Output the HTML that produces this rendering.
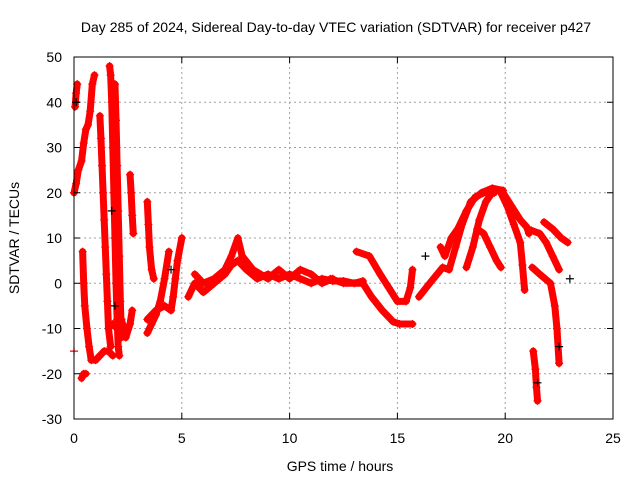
<!DOCTYPE html>
<html><head><meta charset="utf-8"><style>
body{margin:0;background:#fff}
svg{display:block;font-family:"Liberation Sans",sans-serif}
</style></head><body>
<svg id="chart" width="640" height="480" viewBox="0 0 640 480">
<rect width="640" height="480" fill="#fff"/>
<text x="336" y="32" font-size="14" text-anchor="middle">Day 285 of 2024, Sidereal Day-to-day VTEC variation (SDTVAR) for receiver p427</text>
<g id="grid"></g><g id="marks"></g><g id="axes"></g>
<text x="340" y="471" font-size="14" text-anchor="middle">GPS time / hours</text>
<text transform="translate(19,238) rotate(-90)" font-size="14" text-anchor="middle">SDTVAR / TECUs</text>
</svg>
<script>
const xTicks=[0,5,10,15,20,25];
const yTicks=[-30,-20,-10,0,10,20,30,40,50];
const trackA0=[[0.05,39],[0.1,42],[0.15,44]];
const trackA=[[0,20],[0.1,22],[0.2,25],[0.35,27],[0.45,31],[0.55,34],[0.65,35],[0.75,38],[0.85,44],[0.95,46]];
const trackB=[[0.4,7],[0.45,0],[0.5,-5],[0.6,-10],[0.7,-14],[0.8,-17],[1.0,-17],[1.2,-16],[1.4,-15],[1.6,-15],[1.8,-16]];
const trackB2=[[0.35,-21],[0.45,-20],[0.55,-20]];
const trackB3=[[0,-15]];
const trackC=[[1.65,48],[1.7,46],[1.75,40],[1.8,30],[1.85,20],[1.9,10],[1.95,0],[2.0,-8],[2.05,-14],[2.1,-16]];
const trackC2=[[1.2,37],[1.25,32],[1.3,26],[1.35,20],[1.4,14],[1.45,8],[1.5,2],[1.55,-4],[1.6,-10],[1.7,-14]];
const trackC3=[[1.9,44],[1.95,36],[2.0,26],[2.05,16],[2.1,6],[2.15,-4],[2.2,-12]];
const trackC4=[[1.8,-9],[2.0,-10],[2.2,-8],[2.4,-12],[2.6,-9],[2.7,-6]];
const trackC5=[[2.6,24],[2.65,20],[2.7,15],[2.75,11]];
const trackC6=[[3.4,18],[3.45,13],[3.5,8],[3.6,3],[3.7,1]];
const trackD1=[[3.4,-11],[3.6,-9],[3.8,-7],[4.0,-4],[4.2,1],[4.4,7]];
const trackD2=[[4.5,-6],[4.6,-3],[4.7,1],[4.8,5],[5.0,10]];
const trackD3=[[3.4,-8],[3.8,-6],[4.2,-5],[4.5,-6]];
const trackM1=[[5.3,-3],[5.6,0],[6.0,-2],[6.5,0],[7.0,2],[7.3,4],[7.6,5],[8.0,3],[8.5,1],[9.0,2],[9.5,1],[10.0,2],[10.5,1],[11.0,0],[11.5,1],[12.0,0.5],[12.5,0.5],[13.0,0],[13.4,0.5]];
const trackM2=[[5.6,2],[6.0,0],[6.5,1],[7.0,3],[7.3,6],[7.6,10],[7.8,6],[8.3,3],[9.0,1],[9.5,3],[10.0,1],[10.5,3],[11.0,2],[11.5,0],[12.0,1]];
const trackD=[[11.9,1],[12.5,0],[13.4,0],[13.8,-3],[14.3,-6],[14.8,-8.5],[15.1,-9],[15.7,-9]];
const trackE=[[13.1,7],[13.7,6],[14.2,2],[14.6,-1],[15.0,-4],[15.4,-4],[15.6,-1],[15.7,3]];
const trackF=[[16.0,-3],[16.5,0],[17.1,3.5],[17.4,3],[17.7,8],[18.0,13],[18.4,18],[18.9,20],[19.4,21],[19.9,20.5]];
const trackF2=[[17.0,8],[17.2,6],[17.5,10],[17.8,12],[18.2,16],[18.6,19],[19.0,20],[19.5,20]];
const trackF3=[[18.2,3.5],[18.5,8],[18.8,14],[19.1,18],[19.4,20]];
const trackF4=[[18.7,12],[19.0,11],[19.3,8],[19.6,5],[19.8,3.5]];
const trackF5=[[19.8,20],[20.1,17],[20.4,13],[20.7,9],[20.8,4],[20.9,-1.5]];
const trackF6=[[19.9,20],[20.3,17],[20.7,14],[21.0,12.4],[21.1,11]];
const trackG=[[21.2,11.7],[21.6,11],[21.9,9],[22.2,6],[22.5,3]];
const trackH=[[21.8,13.5],[22.2,12],[22.6,10],[22.9,9]];
const trackI=[[21.25,3.5],[21.6,2],[22.1,0],[22.3,-5],[22.4,-10],[22.5,-17.7]];
const trackJ=[[21.3,-15],[21.4,-19],[21.45,-23],[21.5,-26]];
const tracks=[trackA0,trackA,trackB,trackB2,trackB3,trackC,trackC2,trackC3,trackC4,trackC5,trackC6,trackD1,trackD2,trackD3,trackM1,trackM2,trackD,trackE,trackF,trackF2,trackF3,trackF4,trackF5,trackF6,trackG,trackH,trackI,trackJ];
const blackPts=[[0.1,40],[1.75,16],[1.9,-5],[4.5,3],[16.3,6],[22.5,-14],[21.5,-22],[23.0,1]];

const X0=74,X1=613,Y0=419,Y1=57;
const sx=t=>X0+(t-0)/(25-0)*(X1-X0);
const sy=v=>Y0-(v+30)/(80)*(Y0-Y1);
const NS='http://www.w3.org/2000/svg';
const mk=(tag,at,parent)=>{const e=document.createElementNS(NS,tag);for(const k in at)e.setAttribute(k,at[k]);parent.appendChild(e);return e;};
const grid=document.getElementById('grid'),axes=document.getElementById('axes'),marks=document.getElementById('marks');
xTicks.forEach(t=>{
  if(t>0&&t<25){const g=mk('line',{x1:sx(t),x2:sx(t),y1:Y0,y2:Y1,stroke:'#a0a0a0','stroke-dasharray':'2,3'},grid);
  
  }
  const l=mk('text',{x:sx(t),y:443,'font-size':14,'text-anchor':'middle'},axes);l.textContent=t;
  
  
  mk('line',{x1:sx(t),x2:sx(t),y1:Y0,y2:Y0-6,stroke:'#000'},axes);
  mk('line',{x1:sx(t),x2:sx(t),y1:Y1,y2:Y1+6,stroke:'#000'},axes);
});
yTicks.forEach(v=>{
  if(v>-30&&v<50){const g=mk('line',{x1:X0,x2:X1,y1:sy(v),y2:sy(v),stroke:'#a0a0a0','stroke-dasharray':'2,3'},grid);
  
  }
  const l=mk('text',{x:62,y:sy(v)+5,'font-size':14,'text-anchor':'end'},axes);l.textContent=v;
  
  
  mk('line',{x1:X0,x2:X0+6,y1:sy(v),y2:sy(v),stroke:'#000'},axes);
  mk('line',{x1:X1,x2:X1-6,y1:sy(v),y2:sy(v),stroke:'#000'},axes);
});
const fr=mk('rect',{x:X0,y:Y1,width:X1-X0,height:Y0-Y1,fill:'none',stroke:'#000'},axes);


const plus=(t,v,c,p)=>{const x=sx(t),y=sy(v);
  mk('path',{d:`M${x-4},${y}h8M${x},${y-4}v8`,stroke:c,'stroke-width':1.2},p);};
tracks.forEach(tr=>{
  const g=mk('g',{},marks);
  
  
  if(tr.length>1) mk('polyline',{points:tr.map(p=>sx(p[0])+','+sy(p[1])).join(' '),fill:'none',stroke:'#f00','stroke-width':7,'stroke-linejoin':'round','stroke-linecap':'round'},g);
  tr.forEach(p=>plus(p[0],p[1],'#f00',g));
});
const bg=mk('g',{},marks);


blackPts.forEach(p=>plus(p[0],p[1],'#000',bg));
</script>
</body></html>
